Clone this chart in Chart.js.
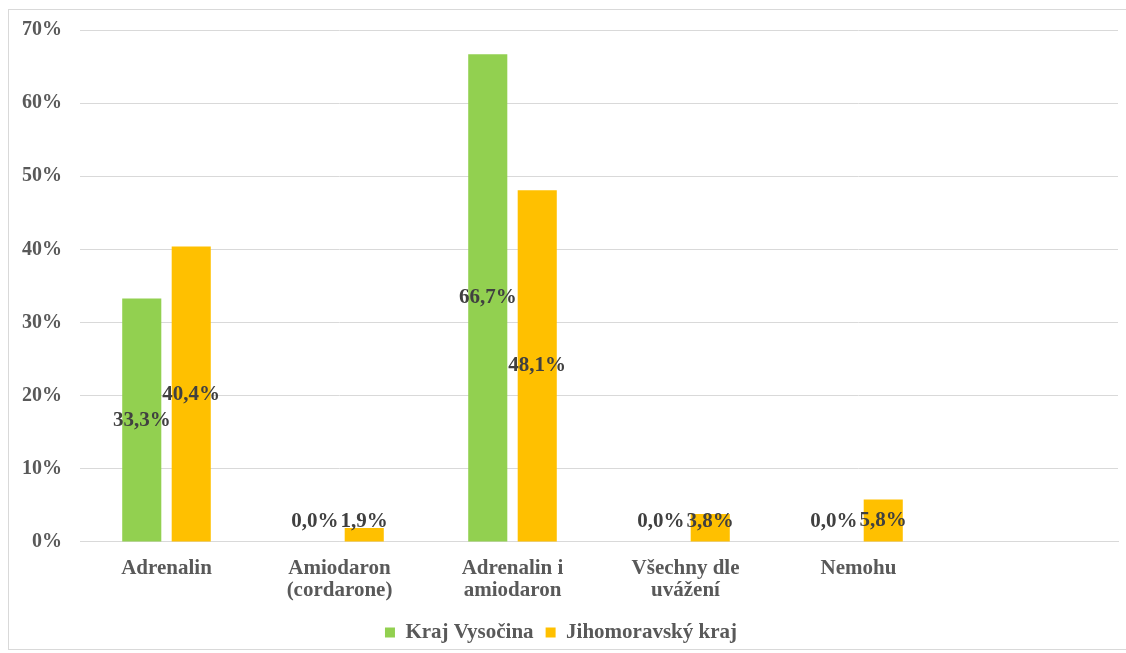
<!DOCTYPE html>
<html>
<head>
<meta charset="utf-8">
<script src="https://cdn.jsdelivr.net/npm/chart.js@4.4.1/dist/chart.umd.min.js"></script>
<style>
  html, body { margin: 0; padding: 0; background: #fff; }
  #frame { position: absolute; left: 8px; top: 9px; width: 1140px; height: 641px; border: 1px solid #d9d9d9; box-sizing: border-box; }
  #wrap { position: absolute; left: 0; top: 0; width: 1126px; height: 653px; }
</style>
</head>
<body>
<div id="frame"></div>
<div id="wrap"><canvas id="chart"></canvas></div>
<script>
const categories = [['Adrenalin'], ['Amiodaron', '(cordarone)'], ['Adrenalin i', 'amiodaron'], ['Všechny dle', 'uvážení'], ['Nemohu'], ''];
const vysocina = [33.3, 0.0, 66.7, 0.0, 0.0, null];
const jihomoravsky = [40.4, 1.9, 48.1, 3.8, 5.8, null];
const seriesNames = ['Kraj Vysočina', 'Jihomoravský kraj'];
const yTicks = [0, 10, 20, 30, 40, 50, 60, 70];

const serif = '"Liberation Serif", "Times New Roman", serif';
const fmt = v => v.toFixed(1).replace('.', ',') + '%';

const valueLabels = {
    id: 'valueLabels',
    afterDatasetsDraw(chart) {
        const c = chart.ctx;
        const base = chart.scales.y.getPixelForValue(0);
        c.save();
        c.font = 'bold 21px ' + serif;
        c.fillStyle = '#404040';
        c.textAlign = 'center';
        c.textBaseline = 'middle';
        chart.data.datasets.forEach((ds, i) => {
            chart.getDatasetMeta(i).data.forEach((bar, j) => {
                const v = ds.data[j];
                if (v === null || v === undefined) return;
                const mid = (bar.y + base) / 2;
                c.fillText(fmt(v), bar.x, Math.min(mid, base - 20));
            });
        });
        c.restore();
    }
};

new Chart(document.getElementById('chart'), {
    type: 'bar',
    data: {
        labels: categories,
        datasets: [{
            label: seriesNames[0],
            data: vysocina,
            backgroundColor: '#92D050',
            categoryPercentage: 0.572,
            barPercentage: 0.79
        }, {
            label: seriesNames[1],
            data: jihomoravsky,
            backgroundColor: '#FFC000',
            categoryPercentage: 0.572,
            barPercentage: 0.79
        }]
    },
    options: {
        responsive: true,
        maintainAspectRatio: false,
        animation: false,
        layout: { padding: { left: 4, right: 8, top: 23, bottom: 0 } },
        plugins: {
            legend: {
                position: 'bottom',
                labels: {
                    boxWidth: 10,
                    boxHeight: 10,
                    padding: 12,
                    color: '#595959',
                    font: { family: serif, size: 21, weight: 'bold' }
                }
            },
            tooltip: { enabled: false }
        },
        scales: {
            x: {
                grid: { display: false },
                border: { color: '#d9d9d9' },
                ticks: {
                    color: '#595959',
                    padding: 8,
                    maxRotation: 0,
                    font: { family: serif, size: 21, weight: 'bold', lineHeight: 1.05 }
                }
            },
            y: {
                min: 0,
                max: 70,
                afterBuildTicks: axis => { axis.ticks = yTicks.map(v => ({ value: v })); },
                grid: { color: '#d9d9d9', drawTicks: false },
                border: { display: false },
                ticks: {
                    color: '#595959',
                    padding: 18,
                    callback: v => v + '%',
                    font: { family: serif, size: 20, weight: 'bold' }
                }
            }
        }
    },
    plugins: [valueLabels]
});
</script>
</body>
</html>
